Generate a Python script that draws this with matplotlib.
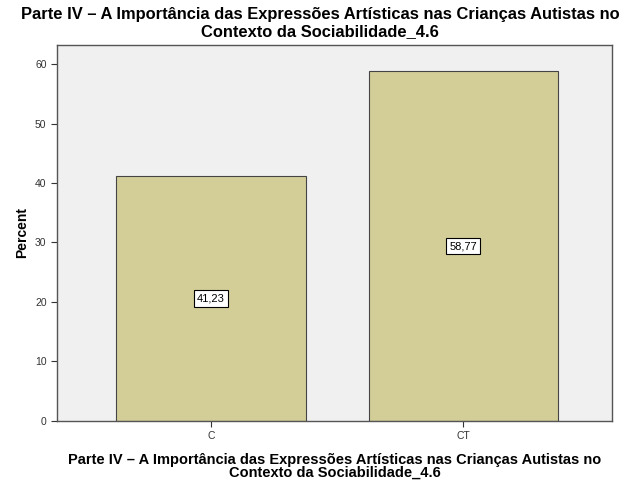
import matplotlib.pyplot as plt

categories = ['C', 'CT']
percents = [41.23, 58.77]
value_labels = ['41,23', '58,77']
yticks = [0, 10, 20, 30, 40, 50, 60]

title = 'Parte IV \u2013 A Importância das Expressões Artísticas nas Crianças Autistas no\nContexto da Sociabilidade_4.6'

plt.rcParams['font.family'] = ['Liberation Sans', 'DejaVu Sans']

fig = plt.figure(figsize=(6.41, 4.91), dpi=100)
ax = fig.add_axes([0.0889, 0.1426, 0.8659, 0.7658])
ax.set_facecolor('#f0f0f0')

x = range(len(categories))
ax.bar(x, percents, width=0.75, color='#d3ce98', edgecolor='#444444', linewidth=0.8, zorder=2)

# value labels in the middle of each bar
for i, (v, lab) in enumerate(zip(percents, value_labels)):
    ax.text(i, v / 2, lab, ha='center', va='center', fontsize=8,
            bbox=dict(boxstyle='square,pad=0.3', fc='white', ec='black', lw=0.8), zorder=3)

ax.set_xlim(-0.611, 1.591)
ax.set_ylim(0, 63.2)
ax.set_xticks(list(x))
ax.set_xticklabels(categories)
ax.set_yticks(yticks)
ax.tick_params(axis='both', labelsize=7.5, labelcolor='#333333', length=4, width=0.8, color='#333333')

for s in ax.spines.values():
    s.set_color('#555555')
    s.set_linewidth(1.0)

ax.set_ylabel('Percent', fontsize=10, fontweight='bold', labelpad=4)
ax.set_xlabel(title, fontsize=10.5, fontweight='bold', labelpad=8, linespacing=0.95)
fig.text(0.499, 0.985, title, ha='center', va='top', fontsize=11.9, fontweight='bold',
         linespacing=1.1)

fig.savefig('out.png', dpi=100)
